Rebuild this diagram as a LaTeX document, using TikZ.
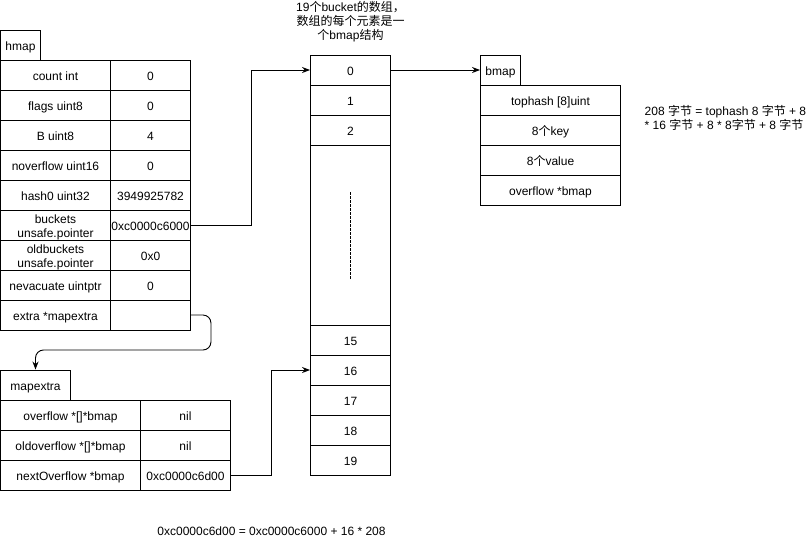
\documentclass[tikz,border=0pt]{standalone}
\usepackage{fontspec}
\setmainfont{Liberation Sans}
\newfontfamily\zh{Noto Sans CJK SC}
\usetikzlibrary{arrows.meta}
\begin{document}
\begin{tikzpicture}[x=1pt,y=-1pt,
  txt/.style={font=\fontsize{12}{14}\selectfont, align=center, inner sep=0},
  cell/.style={txt, draw, line width=0.9pt, minimum height=30pt, text height=11.5pt, text depth=0pt},
  twoline/.style={text height=26.5pt, text depth=1.5pt},
  arr/.style={draw, line width=0.9pt, -{Stealth[length=8pt,width=6pt]}}]
\useasboundingbox (-0.5,0) rectangle (810.5,541);
% ---------------- hmap ----------------
\node[cell, minimum width=40pt] (hmaptab) at (20,45) {hmap};
\foreach \n/\y/\l/\r in {cnt/75/{count int}/0, flg/105/{flags uint8}/0, bb/135/{B uint8}/4,
  nov/165/{noverflow uint16}/0, hs/195/{hash0 uint32}/3949925782,
  nev/285/{nevacuate uintptr}/0, ex/315/{extra *mapextra}/{}}{
  \node[cell, minimum width=110pt] (\n l) at (55,\y) {\l};
  \node[cell, minimum width=80pt] (\n) at (150,\y) {\r};
}
\node[cell, twoline, minimum width=110pt] (bkl) at (55,225) {buckets\\unsafe.pointer};
\node[cell, minimum width=80pt] (bk) at (150,225) {0xc0000c6000};
\node[cell, twoline, minimum width=110pt] (obl) at (55,255) {oldbuckets\\unsafe.pointer};
\node[cell, minimum width=80pt] (ob) at (150,255) {0x0};
% ---------------- mapextra ----------------
\node[cell, minimum width=70pt] (mxtab) at (35,385) {mapextra};
\foreach \n/\y/\l/\r in {ovf/415/{overflow *[]*bmap}/nil, oovf/445/{oldoverflow *[]*bmap}/nil,
  nx/475/{nextOverflow *bmap}/0xc0000c6d00}{
  \node[cell, minimum width=140pt] (\n l) at (70,\y) {\l};
  \node[cell, minimum width=90pt] (\n) at (185,\y) {\r};
}
% ---------------- buckets ----------------
\node[txt] (title) at (350,22) {19{\zh 个}bucket{\zh 的数组，}\\{\zh 数组的每个元素是一}\\{\zh 个}bmap{\zh 结构}};
\foreach \n/\y in {0/70,1/100,2/130,15/340,16/370,17/400,18/430,19/460}{
  \node[cell, minimum width=80pt] (b\n) at (350,\y) {\n};
}
\node[cell, minimum width=80pt, minimum height=180pt] (bgap) at (350,235) {};
\draw[line width=0.7pt, dash pattern=on 2.5pt off 1.5pt] (350,192) -- (350,280);
% ---------------- bmap ----------------
\node[cell, minimum width=40pt] (bmaptab) at (500,70) {bmap};
\node[cell, minimum width=140pt] (th) at (550,100) {tophash [8]uint};
\node[cell, minimum width=140pt] (ky) at (550,130) {8{\zh 个}key};
\node[cell, minimum width=140pt] (vl) at (550,160) {8{\zh 个}value};
\node[cell, minimum width=140pt] (bo) at (550,190) {overflow *bmap};
\node[txt, align=left, anchor=west] (note) at (644,118) {208 {\zh 字节} = tophash 8 {\zh 字节} + 8\\* 16 {\zh 字节} + 8 * 8{\zh 字节} + 8 {\zh 字节}};
\node[txt] (formula) at (271,531) {0xc0000c6d00 = 0xc0000c6000 + 16 * 208};
% ---------------- connectors ----------------
\draw[arr] (bk.east) -- ++(60,0) |- (b0.west);
\draw[arr] (b0.east) -- (bmaptab.west);
\draw[arr, rounded corners=8pt] (ex.east) -- ++(20,0) -- ++(0,35) -| (mxtab.north);
\draw[arr] (nx.east) -- ++(40,0) |- (b16.west);
\end{tikzpicture}
\end{document}
